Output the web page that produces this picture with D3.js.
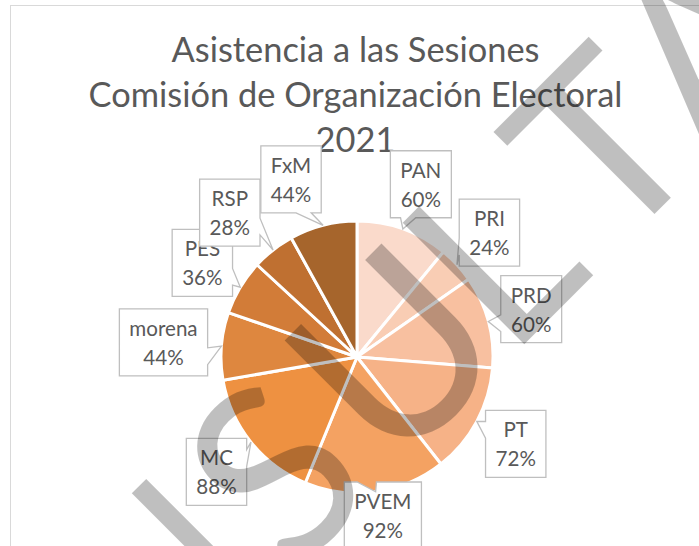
<!DOCTYPE html>
<html><head><meta charset="utf-8">
<script src="https://cdn.jsdelivr.net/npm/d3@7"></script>
<style>html,body{margin:0;padding:0;background:#fff;} svg{display:block;}</style>
</head><body>
<svg id="chart" width="699" height="546"></svg>
<script>
// ---- data ----
const categories = ["PAN","PRI","PRD","PT","PVEM","MC","morena","PES","RSP","FxM"];
const values = [60,24,60,72,92,88,44,36,28,44];
const colors = ["#fadacb","#f9cdb4","#f8c0a0","#f6b287","#f4a262","#ee9141","#de873f","#d27c38","#bf7031","#a6652c"];
const titleLines = ["Asistencia a las Sesiones","Comisión de Organización Electoral","2021"];
const watermarkText = "CONSULTA";

// ---- layout ----
const W = 699, H = 546;
const FONT = "Lato, 'Open Sans', sans-serif";
const textColor = "#595959";
const svg = d3.select("#chart");

svg.append("rect").attr("x",10.5).attr("y",5.5).attr("width",W).attr("height",H)
  .attr("fill","#fff").attr("stroke","#d9d9d9").attr("stroke-width",1);

function measure(str, size){
  const t = svg.append("text").attr("font-family",FONT).attr("font-size",size).text(str);
  const w = t.node().getComputedTextLength(); t.remove(); return w;
}

// title
const titleSize = 30 * 534 / measure(titleLines[1], 30);
const titleCx = 355.5, titleBase0 = 62, titleStep = 45;
const titleG = svg.append("g");
const titleTexts = titleLines.map((t,i)=> titleG.append("text")
  .attr("x",titleCx).attr("y",titleBase0 + i*titleStep)
  .attr("text-anchor","middle").attr("font-family",FONT)
  .attr("font-size",titleSize).attr("fill",textColor).text(t));
const lastTitle = titleTexts[titleTexts.length-1];
const lastW = lastTitle.node().getComputedTextLength();
const titleBox = {l: titleCx - lastW/2 + 6, r: titleCx + lastW/2 - 6,
  t: titleBase0 + (titleLines.length-1)*titleStep - 0.72*titleSize,
  b: titleBase0 + (titleLines.length-1)*titleStep + 1};

// pie
const cx = 357, cy = 357, r = 136;
const arcs = d3.pie().sort(null).value(d=>d)(values);
const arc = d3.arc().innerRadius(0).outerRadius(r);
svg.append("g").attr("transform",`translate(${cx},${cy})`)
  .selectAll("path").data(arcs).join("path")
  .attr("d",arc).attr("fill",(d,i)=>colors[i])
  .attr("stroke","#fff").attr("stroke-width",3).attr("stroke-linejoin","round");

// labels (callouts)
const pctLabels = values.map(v => v + "%");
const maxName = d3.max(categories, c => measure(c, 20));
const pctW = measure("60%", 20);
const labelSize = 20 * (74 / maxName + 37 / pctW) / 2;
const pad = 10, boxH = 67, Rl = 150, plotBottom = 549;

const boxes = arcs.map((d,i)=>{
  const mid = (d.startAngle + d.endAngle)/2;
  const w = Math.max(measure(categories[i], labelSize), measure(pctLabels[i], labelSize)) + 2*pad;
  const s = Math.sin(mid), c = Math.cos(mid);
  const x = cx + Rl*s + w/2*s;
  let y = cy - Rl*c - boxH/2*c;
  y = Math.min(y, plotBottom - boxH/2);
  return {i, mid, w, x, y, dir: s >= 0 ? 1 : -1, fromTop: Math.min(mid, 2*Math.PI - mid)};
});
const edges = b => ({l:b.x-b.w/2, r:b.x+b.w/2, t:b.y-boxH/2, b:b.y+boxH/2});
function hitTitle(e){ return !(e.r < titleBox.l || e.l > titleBox.r || e.t > titleBox.b || e.b < titleBox.t); }
function hitBox(e, f){
  const ox = Math.min(e.r, f.r) - Math.max(e.l, f.l);
  const oy = Math.min(e.b, f.b) - Math.max(e.t, f.t);
  return ox > 0 && oy > 20;
}
const placed = [];
boxes.slice().sort((a,b)=>a.fromTop - b.fromTop).forEach(b=>{
  let k = 0;
  while (k < 120){
    const e = edges(b);
    if (!hitTitle(e) && !placed.some(o => hitBox(e, edges(o)))) break;
    b.x += b.dir; k++;
  }
  placed.push(b);
});

const labelG = svg.append("g");
boxes.forEach(b=>{
  const i = b.i, w = b.w, p = Object.assign({x:b.x, y:b.y}, edges(b));
  const tip = [cx + r*Math.sin(b.mid), cy - r*Math.cos(b.mid)];
  const dxP = tip[0]-p.x, dyP = tip[1]-p.y;
  const dq = dxP*boxH/w, dz = Math.abs(dyP) - Math.abs(dq);
  const xb1 = p.l + w*(dxP>0?7:2)/12, xb2 = p.l + w*(dxP>0?10:5)/12;
  const yb1 = p.t + boxH*(dyP>0?7:2)/12, yb2 = p.t + boxH*(dyP>0?10:5)/12;
  const path = d3.path();
  path.moveTo(p.l,p.t);
  if (dz>0 && dyP<0){ path.lineTo(xb1,p.t); path.lineTo(tip[0],tip[1]); path.lineTo(xb2,p.t); }
  path.lineTo(p.r,p.t);
  if (dz<=0 && dxP>0){ path.lineTo(p.r,yb1); path.lineTo(tip[0],tip[1]); path.lineTo(p.r,yb2); }
  path.lineTo(p.r,p.b);
  if (dz>0 && dyP>0){ path.lineTo(xb2,p.b); path.lineTo(tip[0],tip[1]); path.lineTo(xb1,p.b); }
  path.lineTo(p.l,p.b);
  if (dz<=0 && dxP<0){ path.lineTo(p.l,yb2); path.lineTo(tip[0],tip[1]); path.lineTo(p.l,yb1); }
  path.closePath();
  const g = labelG.append("g");
  g.append("path").attr("d",path.toString()).attr("fill","#fff")
    .attr("stroke","#bfbfbf").attr("stroke-width",1.3).attr("stroke-linejoin","miter");
  g.append("text").attr("x",p.x).attr("y",p.t+27).attr("text-anchor","middle")
    .attr("font-family",FONT).attr("font-size",labelSize).attr("fill",textColor).text(categories[i]);
  g.append("text").attr("x",p.x).attr("y",p.t+56).attr("text-anchor","middle")
    .attr("font-family",FONT).attr("font-size",labelSize).attr("fill",textColor).text(pctLabels[i]);
});

// watermark
const wmPos = [-620,-470,-305,-140,29,167,323,470];
const wmBase = 614;
const wmG = svg.append("g").attr("transform","rotate(-45)");
watermarkText.split("").forEach((ch,i)=>{
  wmG.append("text").attr("x",wmPos[i]).attr("y",wmBase).attr("text-anchor","middle")
    .attr("font-family",FONT).attr("font-size",240).attr("fill","rgba(0,0,0,0.25)").text(ch);
});
</script>
</body></html>
